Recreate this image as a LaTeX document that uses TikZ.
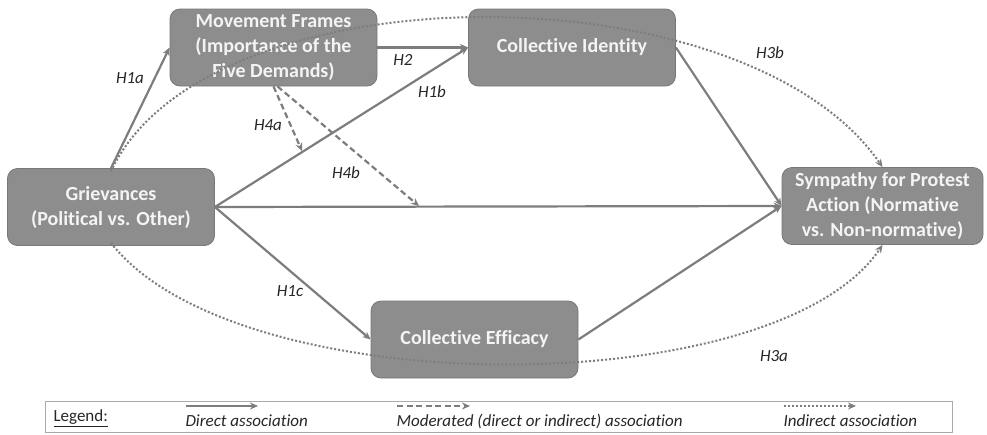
\documentclass[tikz,border=0pt]{standalone}
\usepackage{fontspec}
\setmainfont{Carlito}[Ligatures=NoCommon]
\usetikzlibrary{arrows.meta}

\definecolor{boxgray}{RGB}{141,141,141}
\definecolor{boxedge}{RGB}{120,120,120}
\definecolor{boxtext}{RGB}{244,244,244}
\definecolor{linegray}{RGB}{125,125,125}
\definecolor{legendgray}{RGB}{170,170,170}

\begin{document}
\begin{tikzpicture}[x=1pt, y=-1pt,
    var/.style={draw=boxedge, fill=boxgray, rounded corners=10pt, line width=0.8pt,
        minimum width=207pt, minimum height=77pt, inner sep=2pt, align=center,
        text=boxtext, font=\fontsize{20}{25}\selectfont\bfseries},
    direct/.style={draw=linegray, line width=2.2pt, -{Stealth[length=8pt, width=7pt]}},
    moder/.style={direct, dash pattern=on 6pt off 3.5pt},
    indirect/.style={direct, line width=2pt, dash pattern=on 2pt off 2pt},
    hyp/.style={font=\fontsize{17}{20}\selectfont\itshape, text=black!85},
    legtext/.style={font=\fontsize{17}{20}\selectfont, text=black!85, anchor=west}
]
    \useasboundingbox (0,0) rectangle (987,434);

    % boxes
    \node[var] (frames) at (273.5,47.5) {Movement Frames\\(Importance of the\\Five Demands)};
    \node[var] (identity) at (572,47.5) {Collective Identity};
    \node[var] (griev) at (111,207) {Grievances\\(Political vs. Other)};
    \node[var, minimum width=201pt] (symp) at (882.5,206) {Sympathy for Protest\\Action (Normative\\vs. Non-normative)};
    \node[var] (efficacy) at (474.5,339.5) {Collective Efficacy};

    % points on paths
    \coordinate (m1) at (302,151);
    \coordinate (m2) at (419,206);

    % direct paths
    \draw[direct] (griev.north) -- (frames.west);
    \draw[direct] (frames.east) -- (identity.west);
    \draw[direct] (griev.east) -- (identity.west);
    \draw[direct] (griev.east) -- (symp.west);
    \draw[direct] (griev.east) -- (efficacy.west);
    \draw[direct] (identity.east) -- (symp.west);
    \draw[direct] (efficacy.east) -- (symp.west);

    % moderated paths
    \draw[moder] (frames.south) -- (m1);
    \draw[moder] ([xshift=4pt]frames.south) -- (m2);

    % indirect paths
    \draw[indirect] ([yshift=-3pt]griev.north) .. controls (207,-33) and (745,-33) .. (symp.north);
    \draw[indirect] ([yshift=3pt]griev.south) .. controls (236,404) and (776,404) .. (symp.south);

    % labels
    \node[hyp] (h1a) at (130,78) {H1a};
    \node[hyp] (h2) at (403,60) {H2};
    \node[hyp] (h1b) at (432,92) {H1b};
    \node[hyp] (h4a) at (268,125) {H4a};
    \node[hyp] (h4b) at (346,173) {H4b};
    \node[hyp] (h1c) at (290,291) {H1c};
    \node[hyp] (h3b) at (770,53) {H3b};
    \node[hyp] (h3a) at (774,356) {H3a};

    % legend
    \node[draw=legendgray, line width=0.8pt, minimum width=907pt, minimum height=31pt, inner sep=0pt] (legend) at (498.5,416.5) {};
    \node[legtext] (legname) at (50,418) {\underline{Legend:}};
    \node[legtext, font=\fontsize{17}{20}\selectfont\itshape] (legdir) at (182,421) {Direct association};
    \node[legtext, font=\fontsize{17}{20}\selectfont\itshape] (legmod) at (393,421) {Moderated (direct or indirect) association};
    \node[legtext, font=\fontsize{17}{20}\selectfont\itshape] (legind) at (780,421) {Indirect association};
    \coordinate (d1) at (186,406);
    \coordinate (d2) at (258,406);
    \coordinate (e1) at (397,406);
    \coordinate (e2) at (470,406);
    \coordinate (f1) at (784,406);
    \coordinate (f2) at (856,406);
    \draw[direct, line width=1.6pt] (d1) -- (d2);
    \draw[moder, line width=1.6pt] (e1) -- (e2);
    \draw[indirect, line width=1.6pt] (f1) -- (f2);
\end{tikzpicture}
\end{document}
